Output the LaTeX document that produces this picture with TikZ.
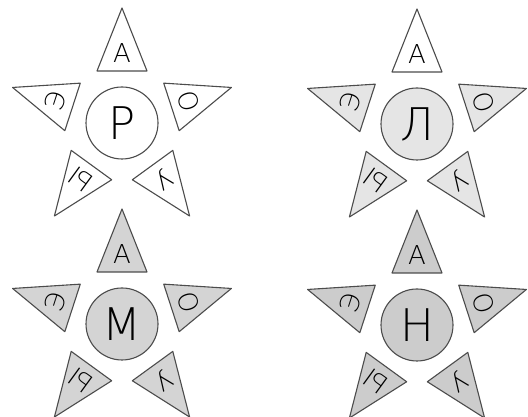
\documentclass[tikz,border=0pt]{standalone}
\usepackage{fontspec}
\newfontfamily\letterfont{DejaVu Sans ExtraLight}
\usetikzlibrary{positioning}

\definecolor{paleshade}{gray}{0.90}
\definecolor{midshade}{gray}{0.83}
\definecolor{deepshade}{gray}{0.80}

\tikzset{
  petal/.style={draw=black!70, line width=1.1pt, line join=round},
  core/.style={circle, draw=black!70, line width=1.1pt, minimum size=72pt,
    inner sep=0pt, font=\letterfont\fontsize{45}{45}\selectfont},
  vowel/.style={inner sep=0pt, font=\letterfont\fontsize{26}{26}\selectfont},
}

% #1 name, #2 centre, #3 consonant, #4 circle fill, #5 top fill, #6 other fills
\newcommand{\vowelstar}[6]{%
  \node[core, fill=#4] (#1) at (#2) {#3};
  \foreach \v [count=\i from 0] in {А,О,У,Ы,Э} {
    \ifnum\i=0 \def\tfill{#5}\else\def\tfill{#6}\fi
    \begin{scope}[shift={(#2)}, rotate=-72*\i]
      \draw[petal, fill=\tfill] (-25,52) -- (25,52) -- (0,115) -- cycle;
      \node[vowel, rotate=-72*\i] (#1-\i) at (0,70) {\v};
    \end{scope}
  }
}

\begin{document}
\begin{tikzpicture}[x=1pt, y=1pt]
\useasboundingbox (0,0) rectangle (528,417);
\vowelstar{er}{122,294}{Р}{white}{white}{white}
\vowelstar{el}{417,293}{Л}{paleshade}{white}{paleshade}
\vowelstar{em}{122,93}{М}{midshade}{midshade}{midshade}
\vowelstar{en}{417,92}{Н}{deepshade}{deepshade}{deepshade}
\end{tikzpicture}
\end{document}
